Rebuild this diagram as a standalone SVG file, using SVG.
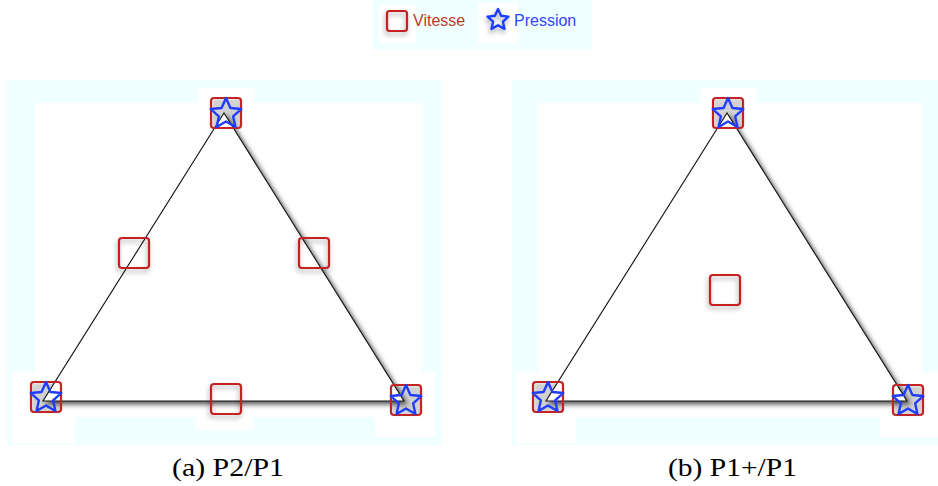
<svg xmlns="http://www.w3.org/2000/svg" width="938" height="486" viewBox="0 0 938 486">
  <style>
    .panel { fill: #f0ffff; }
    .white { fill: #ffffff; }
    .shade { fill: #9a9a9a; fill-opacity: 0.45; filter: url(#soft); }
    .tri { fill: #ffffff; stroke: #111111; stroke-width: 1.1; stroke-linejoin: miter; filter: url(#triShadow); }
    .sq { fill: none; stroke: #c42323; stroke-width: 2.2; }
    .sqs { filter: url(#sqShadow); }
    .star { fill: none; stroke: #1f3cff; stroke-width: 2.4; stroke-linejoin: round; }
    .legend-text { font-family: "Liberation Sans", Arial, sans-serif; font-size: 16px; }
    .caption { font-family: "Liberation Serif", "Times New Roman", serif; font-size: 25px; fill: #000; }
  </style>
  <defs>
    <filter id="triShadow" x="-10%" y="-10%" width="125%" height="125%">
      <feDropShadow dx="3" dy="3" stdDeviation="2.8" flood-color="#000" flood-opacity="0.65"/>
    </filter>
    <filter id="sqShadow" x="-40%" y="-40%" width="180%" height="180%">
      <feDropShadow dx="-1" dy="3" stdDeviation="2.5" flood-color="#000" flood-opacity="0.35"/>
    </filter>
    <filter id="soft" x="-30%" y="-30%" width="160%" height="160%">
      <feGaussianBlur stdDeviation="1.5"/>
    </filter>
    <path id="star16" d="M0,-16 L4.408,-6.068 L15.217,-4.944 L7.133,2.318 L9.405,12.944 L0,7.5 L-9.405,12.944 L-7.133,2.318 L-15.217,-4.944 L-4.408,-6.068 Z"/>
    <rect id="sq30" x="-15" y="-15" width="30" height="30" rx="3"/>
  </defs>

  <!-- backgrounds -->
  <g id="background">
    <rect class="panel" x="373" y="0" width="219" height="50"/>
    <rect class="white" x="379" y="5" width="37" height="38"/>
    <rect class="white" x="478" y="3" width="40" height="40"/>

    <rect class="panel" x="7" y="80" width="435" height="365"/>
    <rect class="white" x="35" y="103" width="387" height="314"/>
    <rect class="white" x="198" y="88" width="56" height="20"/>
    <rect class="white" x="12" y="372" width="63" height="71"/>
    <rect class="white" x="375" y="372" width="60" height="65"/>
    <rect class="white" x="196" y="380" width="57" height="50"/>

    <rect class="panel" x="512" y="80" width="426" height="365"/>
    <rect class="white" x="538" y="103" width="384" height="314"/>
    <rect class="white" x="701" y="88" width="55" height="20"/>
    <rect class="white" x="516" y="372" width="60" height="71"/>
    <rect class="white" x="880" y="372" width="58" height="65"/>

    <rect class="shade" x="212" y="99" width="29" height="29" rx="3"/>
    <rect class="shade" x="32" y="383" width="29" height="29" rx="3"/>
    <rect class="shade" x="392" y="386" width="29" height="29" rx="3"/>
    <rect class="shade" x="714" y="99" width="29" height="29" rx="3"/>
    <rect class="shade" x="534" y="383" width="29" height="29" rx="3"/>
    <rect class="shade" x="894" y="386" width="29" height="29" rx="3"/>
  </g>

  <!-- connectors: triangle edges -->
  <g id="connectors">
    <polygon class="tri" points="224,113 43,401 404,401"/>
    <polygon class="tri" points="727,113 546,401 907,401"/>
  </g>

  <!-- legend -->
  <g id="legend-vitesse">
    <rect class="sq sqs" x="387" y="11" width="20" height="20" rx="2.5"/>
    <text class="legend-text" x="413" y="26" fill="#c0392b">Vitesse</text>
  </g>
  <g id="legend-pression">
    <path class="star sqs" transform="translate(498,20)" d="M0,-11 L3.056,-4.207 L10.462,-3.399 L4.945,1.607 L6.466,8.899 L0,5.2 L-6.466,8.899 L-4.945,1.607 L-10.462,-3.399 L-3.056,-4.207 Z"/>
    <text class="legend-text" x="514" y="26" fill="#3344ff">Pression</text>
  </g>

  <!-- panel a nodes -->
  <g id="a-top">
    <use href="#sq30" class="sq" x="226" y="113"/>
    <use href="#star16" class="star" x="226" y="114"/>
  </g>
  <g id="a-left">
    <use href="#sq30" class="sq" x="46" y="397"/>
    <use href="#star16" class="star" x="46" y="398"/>
  </g>
  <g id="a-right">
    <use href="#sq30" class="sq" x="406" y="400"/>
    <use href="#star16" class="star" x="406" y="401"/>
  </g>
  <g id="a-mid-left">
    <use href="#sq30" class="sq sqs" x="134" y="253"/>
  </g>
  <g id="a-mid-right">
    <use href="#sq30" class="sq sqs" x="314" y="253"/>
  </g>
  <g id="a-mid-bottom">
    <use href="#sq30" class="sq sqs" x="226" y="399"/>
  </g>

  <!-- panel b nodes -->
  <g id="b-top">
    <use href="#sq30" class="sq" x="728" y="113"/>
    <use href="#star16" class="star" x="728" y="114"/>
  </g>
  <g id="b-left">
    <use href="#sq30" class="sq" x="548" y="397"/>
    <use href="#star16" class="star" x="548" y="398"/>
  </g>
  <g id="b-right">
    <use href="#sq30" class="sq" x="908" y="400"/>
    <use href="#star16" class="star" x="908" y="401"/>
  </g>
  <g id="b-center">
    <use href="#sq30" class="sq sqs" x="725" y="290"/>
  </g>

  <!-- captions -->
  <text class="caption" x="172" y="476" textLength="112" lengthAdjust="spacingAndGlyphs">(a) P2/P1</text>
  <text class="caption" x="668" y="476" textLength="129" lengthAdjust="spacingAndGlyphs">(b) P1+/P1</text>
</svg>
